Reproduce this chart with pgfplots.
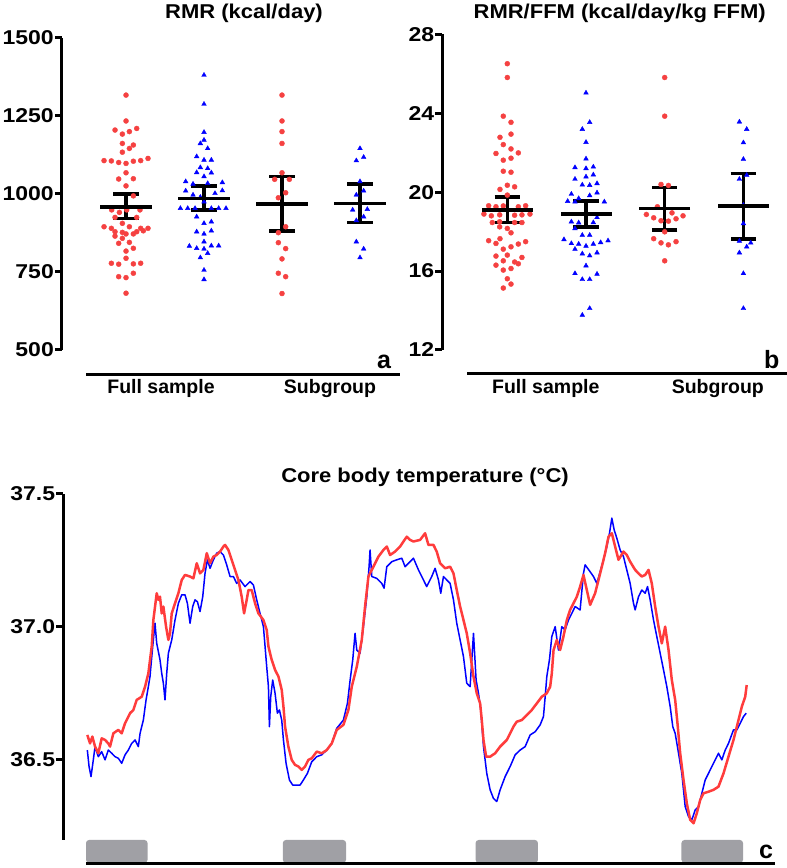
\documentclass[border=0pt]{standalone}
\usepackage{pgfplots}
\pgfplotsset{compat=1.18}
\usepackage{fontspec}
\setmainfont{Liberation Sans}
\newfontfamily\tickfont{Liberation Sans}[FakeStretch=1.15]
\newfontfamily\titlefont{Liberation Sans}[FakeStretch=1.1]
\definecolor{dotred}{RGB}{245,65,65}
\definecolor{dotblue}{RGB}{0,0,255}
\definecolor{linered}{RGB}{255,60,60}
\definecolor{barg}{RGB}{160,160,165}
\pgfplotsset{
  panel/.style={scale only axis, clip=false, axis line style={draw=none},
    xtick=\empty, ytick pos=left, tick align=outside, major tick length=7pt,
    tick style={line width=3pt, black},
    yticklabel style={font=\tickfont\fontsize{20}{20}\selectfont\bfseries, inner sep=1pt},
    /pgf/number format/assume math mode=true, /pgf/number format/1000 sep={}},
  reddots/.style={only marks, color=dotred, mark=*, mark size=2.5pt, mark options={draw=dotred, fill=dotred}},
  bluetri/.style={only marks, color=dotblue, mark=triangle*, mark size=2.7pt, mark options={draw=dotblue, fill=dotblue}},
  ebar/.style={only marks, black, mark=-, mark size=#1, mark options={line width=3.5pt, black},
    error bars/.cd, y dir=both, y explicit, error bar style={line width=3.5pt, black},
    error mark=-, error mark options={rotate=90, mark size=12.7pt, line width=3.5pt, black}},
}
\begin{document}
\begin{tikzpicture}[x=1pt,y=1pt]
\useasboundingbox (0,0) rectangle (787,868);
% ---------------- panel a ----------------
\begin{axis}[panel, at={(62pt,518pt)}, anchor=south west, width=338pt, height=312pt,
  xmin=0.179, xmax=4.513, ymin=500, ymax=1500, ytick={500,750,1000,1250,1500}]
\addplot[reddots] coordinates {
(1.000,1317) (1.000,1234) (0.859,1205) (0.953,1192) (1.043,1200) (1.137,1210) (0.953,1162) (1.094,1157) (1.043,1146) (0.953,1134)
(0.718,1107) (0.812,1106) (0.906,1101) (1.000,1098) (1.094,1105) (1.188,1107) (1.282,1114) (1.000,1068) (0.906,1048) (1.094,1049)
(1.000,1026) (1.094,994) (0.816,949) (0.915,941) (1.009,949) (1.179,949) (0.859,925) (1.137,925) (0.953,906)
(0.718,895) (0.812,890) (1.043,895) (1.188,890) (1.282,890) (0.859,879) (0.953,877) (1.137,879) (1.222,882) (0.859,865)
(1.000,872) (1.094,872) (0.953,858) (1.043,845) (0.906,842) (1.000,817) (1.094,826) (1.000,794) (0.812,778) (0.906,775)
(1.094,776) (1.188,778) (0.906,735) (1.000,732) (1.094,746) (1.000,682)};
\addplot[bluetri] coordinates {
(2.000,1381) (2.000,1288) (2.000,1198) (2.000,1173) (1.953,1162) (2.047,1146) (1.906,1120) (2.000,1109) (2.094,1109) (1.953,1085)
(2.047,1082) (1.906,1069) (2.000,1056) (2.094,1068) (1.765,1040) (1.859,1032) (2.047,1034) (2.235,1037) (1.765,1010) (2.235,1011)
(2.141,1002) (1.859,997) (1.697,954) (1.791,954) (1.885,954) (2.094,954) (2.188,954) (2.282,954) (1.906,927) (2.000,906)
(2.094,911) (1.906,879) (2.000,872) (2.094,882) (2.000,847) (1.812,833) (1.906,826) (2.000,824) (2.094,834) (2.188,834)
(2.047,810) (1.953,796) (2.000,756) (2.000,726) (2.000,975) (1.953,990)};
\addplot[reddots] coordinates {
(3,1317) (3,1234) (3,1200) (3,1162) (3,1068) (2.906,1047) (3.094,1047) (3.047,1004) (2.953,988) (3.047,895)
(2.953,876) (2.953,844) (3.047,825) (3,792) (2.953,746) (3.047,735) (3,681)};
\addplot[bluetri] coordinates {
(4,1146) (3.953,1107) (4.047,1118) (4,1040) (3.953,997) (4.047,1010) (3.906,949) (4.094,951) (4.047,927) (3.953,915)
(3.953,847) (4.047,824) (4,796)};
\addplot[ebar=25.7pt] coordinates {
(1,959) += (0,41) -= (0,37)
(2,986) += (0,39) -= (0,38)
(3,968) += (0,88) -= (0,86)
(4,970) += (0,62) -= (0,62)};
\draw[line width=3pt] (rel axis cs:0,0) -- (rel axis cs:0,1);
\draw[line width=3pt] (axis cs:0.487,423) -- (axis cs:4.513,423);
\end{axis}
% ---------------- panel b ----------------
\begin{axis}[panel, at={(442.3pt,518pt)}, anchor=south west, width=344.7pt, height=315.7pt,
  xmin=0.174, xmax=4.554, ymin=12, ymax=28, ytick={12,16,20,24,28}]
\addplot[reddots] coordinates {
(1,26.51) (1,25.81) (0.949,23.85) (1.047,23.54) (1.047,22.94) (0.907,22.78) (0.949,22.41) (1.047,22.19) (1.140,21.99) (0.856,21.96)
(0.949,21.62) (1.047,21.72) (0.949,21.06) (1.047,21.01) (1,20.35) (0.907,20.14) (1.093,20.27) (1,19.85) (0.763,19.31) (0.856,19.26)
(0.949,19.30) (1.140,19.26) (1.233,19.31) (0.703,18.89) (0.797,18.80) (0.903,18.85) (1.093,18.83) (1.186,18.85) (1.288,18.89) (0.809,18.46)
(0.903,18.50) (1.093,18.46) (1.186,18.46) (0.903,18.24) (1,18.16) (1.047,17.94) (0.763,17.54) (0.907,17.64) (0.856,17.40) (0.949,17.11)
(1.047,17.23) (1.140,17.37) (1.233,17.49) (0.856,16.76) (1,16.81) (1.093,16.46) (1.186,16.69) (0.949,16.52) (1.140,16.37) (0.856,16.30)
(1.047,16.13) (0.949,16.05) (1,15.61) (1.047,15.34) (0.949,15.14)};
\addplot[bluetri] coordinates {
(2,25.03) (2.047,23.54) (1.953,23.19) (2,22.53) (2,21.69) (1.860,21.25) (2,21.20) (2.093,21.28) (2,20.78) (2.093,20.88)
(1.860,20.66) (1.953,20.37) (2.047,20.35) (2.140,20.44) (1.814,19.90) (1.907,19.68) (2.047,19.83) (2.140,19.97) (1.767,19.54) (1.860,19.51)
(2.233,19.51) (1.814,18.50) (1.907,18.45) (2.093,18.46) (2.140,18.72) (1.860,18.16) (1.953,17.82) (2.047,17.82) (1.720,17.60) (1.814,17.40)
(1.907,17.37) (2,17.27) (2.093,17.37) (2.186,17.45) (2.280,17.54) (1.860,17.11) (1.953,16.88) (2.047,16.78) (2.140,16.93) (2,16.27)
(1.860,15.88) (1.953,15.58) (2.047,15.58) (2.140,15.85) (2.047,14.11) (1.953,13.77)};
\addplot[reddots] coordinates {
(3,25.81) (3,23.85) (2.953,20.39) (3.047,20.34) (2.907,19.26) (2.767,18.87) (2.860,18.70) (2.953,18.55) (3.047,18.53) (3.093,18.95)
(3.144,18.65) (3.233,18.80) (3,17.99) (2.860,17.64) (2.953,17.43) (3.047,17.33) (3.144,17.49) (3,16.52)};
\addplot[bluetri] coordinates {
(3.949,23.56) (4.042,23.19) (4,22.51) (4,21.67) (3.949,20.66) (4.042,20.86) (4,19.34) (4,18.41) (3.949,17.52) (4.042,17.23)
(4.093,17.43) (3.949,16.93) (4,15.88) (4,14.11)};
\addplot[ebar=25.5pt] coordinates {
(1,19.09) += (0,0.66) -= (0,0.63)
(2,18.90) += (0,0.64) -= (0,0.66)
(3,19.17) += (0,1.07) -= (0,1.09)
(4,19.29) += (0,1.66) -= (0,1.67)};
\draw[line width=3pt] (rel axis cs:0,0) -- (rel axis cs:0,1);
\draw[line width=3pt] (axis cs:0.488,10.785) -- (axis cs:4.554,10.785);
\end{axis}
% ---------------- panel c ----------------
\begin{axis}[panel, at={(63.3pt,28pt)}, anchor=south west, width=711.7pt, height=346pt,
  xmin=-2.77, xmax=84, ymin=36.196, ymax=37.5, ytick={36.5,37.0,37.5},
  /pgf/number format/fixed, /pgf/number format/fixed zerofill, /pgf/number format/precision=1]
\addplot[fill=barg, draw=none, rounded corners=3pt] coordinates {(0,36.110) (0,36.196) (7.5,36.196) (7.5,36.110)} --cycle;
\addplot[fill=barg, draw=none, rounded corners=3pt] coordinates {(24.0,36.110) (24.0,36.196) (31.7,36.196) (31.7,36.110)} --cycle;
\addplot[fill=barg, draw=none, rounded corners=3pt] coordinates {(47.5,36.110) (47.5,36.196) (55.1,36.196) (55.1,36.110)} --cycle;
\addplot[fill=barg, draw=none, rounded corners=3pt] coordinates {(72.6,36.110) (72.6,36.196) (80.1,36.196) (80.1,36.110)} --cycle;
\addplot[dotblue, line width=1.5pt, line join=round, mark=none] coordinates {
(0.16,36.535) (0.37,36.473) (0.61,36.435) (0.89,36.498) (1.10,36.548) (1.50,36.510) (1.91,36.529) (2.32,36.498) (2.72,36.535) (3.13,36.523)
(3.54,36.510) (3.94,36.504) (4.35,36.485) (4.76,36.517) (5.16,36.535) (5.57,36.560) (5.98,36.573) (6.38,36.548) (6.59,36.598) (6.99,36.648)
(7.32,36.724) (7.60,36.774) (7.80,36.812) (8.13,36.925) (8.41,37.013) (8.62,36.937) (9.02,36.875) (9.23,36.824) (9.43,36.787) (9.63,36.724)
(9.84,36.824) (10.04,36.900) (10.45,36.950) (10.85,37.025) (11.26,37.088) (11.67,37.120) (12.07,37.120) (12.36,37.088) (12.68,37.013) (13.01,37.076)
(13.29,37.101) (13.58,37.094) (13.90,37.057) (14.23,37.113) (14.51,37.201) (14.80,37.252) (15.12,37.220) (15.53,37.252) (15.93,37.277) (16.34,37.283)
(16.75,37.270) (17.15,37.233) (17.56,37.189) (17.97,37.189) (18.37,37.163) (18.78,37.176)
(19.39,37.151) (20.00,37.170) (20.41,37.157) (20.81,37.101) (21.22,37.050) (21.63,37.000) (21.83,36.925) (22.03,36.849) (22.24,36.774) (22.36,36.623)
(22.52,36.736) (22.76,36.799) (23.05,36.749) (23.33,36.674) (23.58,36.686) (23.86,36.648) (24.07,36.573) (24.39,36.485) (24.80,36.422) (25.20,36.403)
(25.61,36.403) (26.10,36.403) (26.50,36.422) (26.99,36.447) (27.52,36.491) (28.13,36.510) (28.74,36.517) (29.35,36.535) (29.96,36.560) (30.57,36.617)
(31.38,36.648) (31.87,36.711) (32.20,36.799) (32.52,36.875) (32.80,36.975) (33.01,36.912) (33.41,36.900) (33.82,37.000) (34.23,37.113) (34.51,37.226)
(34.63,37.289) (34.84,37.189) (35.45,37.182) (36.06,37.163) (36.34,37.145) (36.67,37.226) (37.28,37.245) (37.89,37.252) (38.50,37.258) (38.90,37.226)
(39.51,37.245)
(39.92,37.258) (40.53,37.214) (41.14,37.176) (41.54,37.151) (42.15,37.189) (42.56,37.220) (42.97,37.176) (43.25,37.126) (43.58,37.189) (43.98,37.176)
(44.39,37.163) (44.80,37.101) (45.20,37.013) (45.61,36.950) (46.02,36.887) (46.42,36.787) (46.83,36.774) (47.24,36.975) (47.56,36.799) (47.85,36.749)
(48.13,36.686) (48.46,36.548) (48.86,36.447) (49.27,36.385) (49.67,36.353) (50.08,36.341) (50.49,36.385) (51.10,36.435) (51.71,36.473) (52.32,36.517)
(52.93,36.535) (53.54,36.548) (54.15,36.592) (54.76,36.604) (55.37,36.630) (55.77,36.661) (55.98,36.736) (56.18,36.812) (56.50,36.875) (56.79,36.963)
(57.20,37.000) (57.60,36.912) (58.01,37.000) (58.41,36.988) (58.82,37.025) (59.23,37.050) (59.63,37.076) (60.24,37.063)
(60.65,37.201) (60.85,37.233) (61.46,37.207) (61.87,37.189) (62.28,37.163) (62.68,37.207) (63.09,37.252) (63.50,37.302) (63.82,37.352) (64.11,37.409)
(64.39,37.365) (64.72,37.333) (65.12,37.289) (65.53,37.264) (65.93,37.214) (66.34,37.163) (66.75,37.088) (66.95,37.063) (67.36,37.113) (67.76,37.138)
(68.17,37.126) (68.46,37.151) (68.78,37.101) (69.19,37.025) (69.59,36.963) (70.00,36.900) (70.41,36.837) (70.81,36.774) (71.22,36.699) (71.54,36.623)
(71.83,36.598) (72.24,36.523) (72.64,36.447) (73.05,36.322) (73.46,36.284) (73.86,36.272) (74.27,36.309) (74.67,36.322) (75.08,36.372) (75.49,36.422)
(75.89,36.447) (76.30,36.473) (76.71,36.498) (77.11,36.523) (77.52,36.498) (77.93,36.535) (78.33,36.560) (78.94,36.611) (79.35,36.611) (79.76,36.636)
(80.16,36.661) (80.49,36.674)};
\addplot[linered, line width=2.5pt, line join=round, mark=none] coordinates {
(0.16,36.592) (0.49,36.560) (0.77,36.586) (1.10,36.548) (1.50,36.523) (1.91,36.579) (2.32,36.573) (2.72,36.560) (2.93,36.548) (3.33,36.598)
(3.94,36.611) (4.35,36.598) (4.76,36.636) (5.37,36.674) (5.77,36.686) (6.18,36.724) (6.79,36.736) (7.20,36.774) (7.60,36.824) (8.01,36.925)
(8.21,37.025) (8.62,37.126) (8.82,37.101) (9.02,37.113) (9.23,37.050) (9.43,37.076) (9.76,37.000) (10.04,36.950) (10.24,36.975) (10.45,37.050)
(10.85,37.088) (11.26,37.126) (11.67,37.176) (12.07,37.195) (12.68,37.189) (13.09,37.182) (13.50,37.239) (13.90,37.201) (14.31,37.214) (14.72,37.277)
(15.12,37.239) (15.53,37.264) (15.93,37.270) (16.34,37.283) (16.75,37.302) (16.95,37.308) (17.36,37.289) (17.76,37.252) (18.17,37.214) (18.58,37.176)
(18.98,37.113) (19.27,37.050) (19.59,37.101) (19.80,37.138) (20.20,37.138) (20.61,37.088) (21.02,37.050) (21.63,37.025) (22.03,36.988) (22.24,36.925)
(22.64,36.875) (23.05,36.837) (23.46,36.812) (23.66,36.787) (23.86,36.762) (24.07,36.699) (24.27,36.623) (24.67,36.548) (25.08,36.498) (25.49,36.479)
(25.89,36.473) (26.30,36.460) (26.71,36.473) (27.11,36.498) (27.52,36.504) (28.13,36.529) (28.74,36.523) (29.35,36.535) (29.96,36.560) (30.57,36.611)
(31.38,36.630) (31.99,36.686) (32.40,36.774) (33.01,36.849) (33.62,36.950) (34.02,37.076) (34.43,37.189) (35.04,37.226) (35.65,37.264) (36.26,37.289)
(36.67,37.302) (37.07,37.270) (37.68,37.283) (38.29,37.302) (38.70,37.321) (39.11,37.339) (39.51,37.327)
(39.92,37.321) (40.73,37.327) (41.34,37.352) (41.75,37.308) (42.36,37.308) (42.76,37.283) (43.17,37.239) (43.78,37.220) (44.39,37.226) (44.80,37.201)
(45.20,37.138) (45.61,37.076) (46.02,37.025) (46.42,36.975) (46.83,36.900) (47.24,36.812) (47.64,36.749) (48.05,36.711) (48.25,36.648) (48.46,36.573)
(48.78,36.510) (49.27,36.510) (49.88,36.523) (50.49,36.548) (51.30,36.573) (52.11,36.623) (52.52,36.642) (53.13,36.648) (53.74,36.667) (54.35,36.686)
(54.96,36.711) (55.57,36.736) (56.18,36.749) (56.59,36.774) (56.79,36.824) (57.00,36.912) (57.40,36.950) (57.80,36.912) (58.21,36.963) (58.62,37.025)
(59.02,37.063) (59.43,37.088) (59.84,37.113) (60.24,37.151)
(60.65,37.195) (61.06,37.138) (61.46,37.082) (62.07,37.126) (62.48,37.176) (62.89,37.226) (63.29,37.277) (63.70,37.339) (64.11,37.352) (64.51,37.302)
(64.92,37.252) (65.53,37.283) (65.93,37.270) (66.34,37.245) (66.95,37.214) (67.36,37.201) (67.76,37.189) (68.17,37.195) (68.58,37.214) (68.98,37.163)
(69.39,37.076) (69.80,37.000) (70.20,36.937) (70.61,37.000) (71.02,36.912) (71.42,36.799) (71.83,36.724) (72.11,36.636) (72.44,36.523) (72.85,36.422)
(73.25,36.334) (73.66,36.272) (74.07,36.259) (74.47,36.297) (74.88,36.347) (75.28,36.372) (75.89,36.378) (76.50,36.385) (77.11,36.397) (77.72,36.447)
(78.33,36.510) (78.94,36.573) (79.55,36.648) (79.96,36.699) (80.37,36.736) (80.55,36.780)};
\draw[line width=3pt] (rel axis cs:0,0) -- (rel axis cs:0,1);
\draw[line width=3pt] (axis cs:0,36.108) -- (axis cs:84,36.108);
\end{axis}
% ---------------- texts ----------------
\node[anchor=base, font=\titlefont\fontsize{20}{24}\selectfont\bfseries] at (244,849.7) {RMR (kcal/day)};
\node[anchor=base, font=\titlefont\fontsize{20}{24}\selectfont\bfseries] at (619.7,849.7) {RMR/FFM (kcal/day/kg FFM)};
\node[anchor=base, font=\titlefont\fontsize{20}{24}\selectfont\bfseries] at (425,385.7) {Core body temperature (°C)};
\node[anchor=base, font=\fontsize{19.5}{24}\selectfont\bfseries] at (161,474.7) {Full sample};
\node[anchor=base, font=\fontsize{19.5}{24}\selectfont\bfseries] at (330,474.7) {Subgroup};
\node[anchor=base, font=\fontsize{19.5}{24}\selectfont\bfseries] at (545.8,474.7) {Full sample};
\node[anchor=base, font=\fontsize{19.5}{24}\selectfont\bfseries] at (717.8,474.7) {Subgroup};
\node[anchor=base, font=\fontsize{25}{30}\selectfont\bfseries] at (384,499.7) {a};
\node[anchor=base, font=\fontsize{25}{30}\selectfont\bfseries] at (771.7,499.7) {b};
\node[anchor=base, font=\fontsize{25}{30}\selectfont\bfseries] at (766,9.7) {c};
\end{tikzpicture}
\end{document}
